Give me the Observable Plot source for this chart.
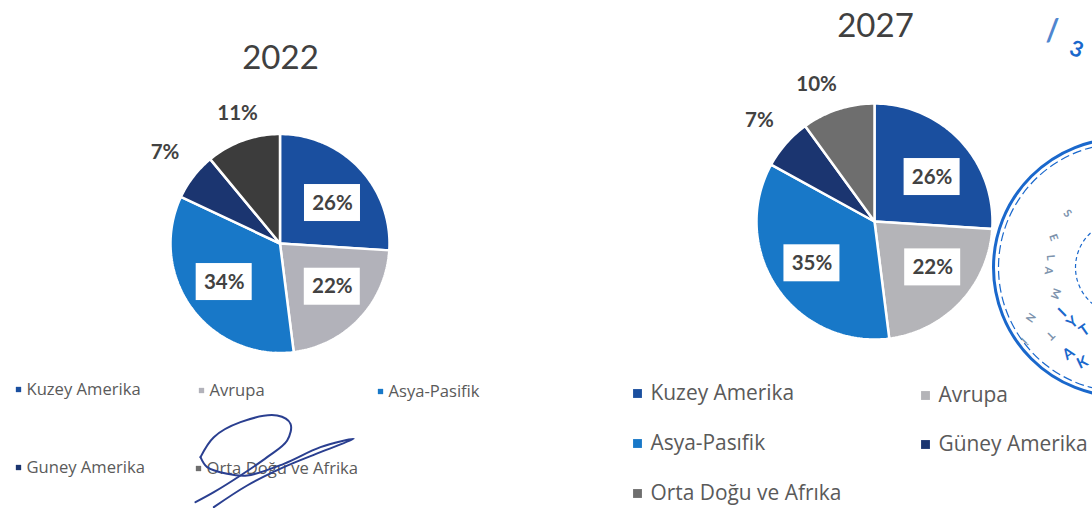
<!DOCTYPE html>
<html><head><meta charset="utf-8">
<style>html,body{margin:0;padding:0;background:#fff}svg{display:block}</style>
<script src="https://cdn.jsdelivr.net/npm/d3@7"></script>
<script src="https://cdn.jsdelivr.net/npm/@observablehq/plot@0.6"></script>
</head><body><div id="c"></div>
<script>
const values2022 = [26,22,34,7,11];
const values2027 = [26,22,35,7,10];
const colors2022 = ["#1a4f9f","#b2b2ba","#1878c8","#1b3570","#3c3c3c"];
const colors2027 = ["#1a4f9f","#b4b4b8","#1878c8","#1b3570","#6e6e6e"];
const labelReach2022 = [.62,.63,.63,1.34,1.25];
const labelReach2027 = [.6,.63,.6,1.3,1.26];
const nudge2022 = [[3,6],[2,-4],[0,-2],[1,-1],[4,-1]];
const nudge2027 = [[6,4],[4,-5],[-4,2],[0,0],[-12,4]];
const pies = [
  {year:"2022",values:values2022,colors:colors2022,reach:labelReach2022,nudge:nudge2022,cx:279.5,cy:243,r:109.5,tx:280,ty:58},
  {year:"2027",values:values2027,colors:colors2027,reach:labelReach2027,nudge:nudge2027,cx:874,cy:221,r:118,tx:875,ty:26}
];
const legendText2022 = ["Kuzey Amerika","Avrupa","Asya-Pasifik","Guney Amerika","Orta Doğu ve Afrika"];
const legendText2027 = ["Kuzey Amerika","Avrupa","Asya-Pasıfik","Güney Amerika","Orta Doğu ve Afrıka"];
const legendX2022=[18,201,380,18,198], legendY2022=[389,390,391,467,468];
const legendX2027=[637,925,637,925,637], legendY2027=[393,395,443,444,493];

const slices=[], labels=[], titles=[];
for(const p of pies){
  titles.push({t:p.year,x:p.tx,y:p.ty});
  const arcs=d3.pie().sort(null)(p.values);
  arcs.forEach((a,i)=>{
    const id=p.year+"-"+i;
    const pt=(ang,k)=>({id,fill:p.colors[i],x:p.cx+k*Math.sin(ang),y:p.cy-k*Math.cos(ang)});
    slices.push(pt(0,0));
    const n=Math.ceil((a.endAngle-a.startAngle)*40);
    for(let j=0;j<=n;j++) slices.push(pt(a.startAngle+(a.endAngle-a.startAngle)*j/n,p.r));
    const mid=(a.startAngle+a.endAngle)/2, k=p.reach[i]*p.r;
    labels.push({t:p.values[i]+"%",x:p.cx+k*Math.sin(mid)+p.nudge[i][0],y:p.cy-k*Math.cos(mid)+p.nudge[i][1],inside:p.reach[i]<1});
  });
}
const legend=[
  ...legendText2022.map((t,i)=>({t,x:legendX2022[i],y:legendY2022[i],c:i==4?"#6e6e6e":colors2022[i],fs:16.6,sz:3,off:8})),
  ...legendText2027.map((t,i)=>({t,x:legendX2027[i],y:legendY2027[i],c:colors2027[i],fs:20.9,sz:5,off:13}))
];
// scanned-in marks on the page
const signature=[[600,290],[640,230],[720,185],[830,165],[870,190],[860,240],[800,290],[720,345],[640,395],[585,425]]
  .map(([x,y])=>({x:x/3,y:360+y/3}));
const signature2=[[600,290],[620,320],[680,340],[740,345],[850,310],[960,260],[1060,235],[960,275],[850,320],[740,375],[640,440]]
  .map(([x,y])=>({x:x/3,y:360+y/3}));
const stampLetters=[{t:"A",x:1068,y:353,r:-35},{t:"K",x:1082,y:362,r:-25},{t:"Y",x:1072,y:322,r:-40},{t:"I",x:1062,y:312,r:-45},{t:"T",x:1084,y:330,r:-35}];
const stampFaint=[{t:"S",x:1067,y:213,r:50},{t:"E",x:1053,y:237,r:70},{t:"L",x:1050,y:257,r:85},{t:"A",x:1048,y:270,r:95},{t:"M",x:1055,y:293,r:110},{t:"N",x:1030,y:317,r:125},{t:"T",x:1050,y:335,r:135},{t:"İ",x:1023,y:340,r:135}];
const stamp=[{x:1122,y:267}];

const chart=Plot.plot({
  width:1092,height:508,margin:0,
  style:{fontFamily:"Lato, 'Noto Sans', sans-serif",background:"#fff"},
  x:{domain:[0,1092],range:[0,1092],axis:null},
  y:{domain:[0,508],range:[0,508],axis:null},
  r:{type:"identity"},
  marks:[
    Plot.line(slices,{x:"x",y:"y",z:"id",fill:"fill",stroke:"#fff",strokeWidth:2.5,curve:"linear-closed"}),
    Plot.rect(labels.filter(d=>d.inside),{x1:d=>d.x-28,x2:d=>d.x+28,y1:d=>d.y-18.5,y2:d=>d.y+18.5,fill:"#fff"}),
    Plot.text(labels,{x:"x",y:"y",text:"t",fontSize:20.5,fontWeight:700,fill:"#424242"}),
    Plot.text(titles,{x:"x",y:"y",text:"t",fontSize:33,fill:"#404040"}),
    Plot.dot(legend,{x:"x",y:"y",symbol:"square",r:"sz",fill:"c"}),
    Plot.text(legend,{x:d=>d.x+d.off,y:"y",text:"t",textAnchor:"start",fill:"#5a5a5a",fontFamily:"'Open Sans', sans-serif",fontSize:d=>d.fs}),
    Plot.dot(stamp,{x:"x",y:"y",r:129,stroke:"#1a68cc",strokeWidth:3,fill:"none"}),
    Plot.dot(stamp,{x:"x",y:"y",r:124,stroke:"#1a68cc",strokeWidth:1.2,strokeDasharray:"9 4",fill:"none"}),
    Plot.dot(stamp,{x:"x",y:"y",r:47,stroke:"#1a68cc",strokeWidth:1.2,strokeDasharray:"4 3",fill:"none"}),
    Plot.text(stampLetters,{x:"x",y:"y",text:"t",rotate:"r",fontSize:15,fontWeight:700,fill:"#1a68cc"}),
    Plot.text(stampFaint,{x:"x",y:"y",text:"t",rotate:"r",fontSize:11,fontWeight:700,fill:"#7d93ad"}),
    Plot.text([{t:"/",x:1052,y:31}],{x:"x",y:"y",text:"t",fontSize:30,fontWeight:700,fill:"#4f86cf"}),
    Plot.text([{t:"3",x:1076,y:49}],{x:"x",y:"y",text:"t",rotate:20,fontSize:22,fontWeight:700,fill:"#1a68cc"}),
    Plot.line(signature,{x:"x",y:"y",stroke:"#2a3f90",strokeWidth:2,curve:"catmull-rom"}),
    Plot.line(signature2,{x:"x",y:"y",stroke:"#2a3f90",strokeWidth:2,curve:"catmull-rom"})
  ]
});
document.getElementById("c").append(chart);
</script></body></html>
